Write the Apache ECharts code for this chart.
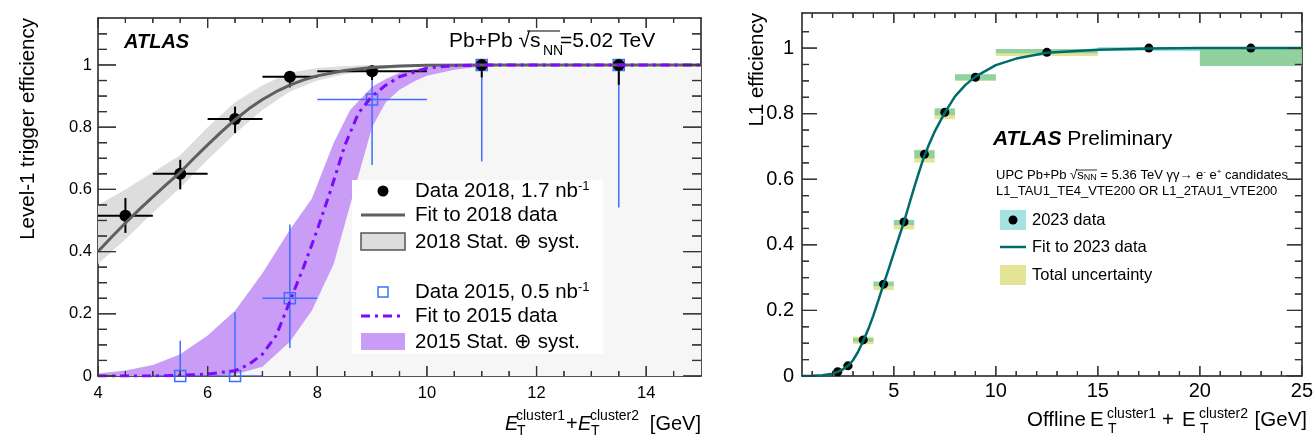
<!DOCTYPE html>
<html>
<head>
<meta charset="utf-8">
<script src="https://cdn.jsdelivr.net/npm/echarts@6/dist/echarts.min.js"></script>
<style>
  html, body { margin: 0; padding: 0; background: #fff; }
  #chart { width: 1316px; height: 443px; }
</style>
</head>
<body>
<div id="chart"></div>
<script>
const FONT = '"Liberation Sans", Arial, Helvetica, sans-serif'

// ---- left panel: 2018 data ----
const x18 = [4.5, 5.5, 6.5, 7.5, 9, 11, 13.5]
const x18Lo = [4, 5, 6, 7, 8, 10, 12]
const x18Hi = [5, 6, 7, 8, 10, 12, 15]
const y18 = [0.515, 0.65, 0.826, 0.962, 0.98, 1.0, 1.0]
const y18Up = [0.057, 0.045, 0.04, 0.016, 0.018, 0, 0]
const y18Dn = [0.055, 0.05, 0.045, 0.034, 0.028, 0.04, 0.064]

// ---- left panel: 2015 data ----
const x15 = [5.5, 6.5, 7.5, 9, 11, 13.5]
const x15Lo = [5, 6, 7, 8, 10, 12]
const x15Hi = [6, 7, 8, 10, 12, 15]
const y15 = [0, 0, 0.25, 0.889, 1.0, 1.0]
const y15Up = [0.113, 0.205, 0.237, 0.11, 0, 0]
const y15Dn = [0, 0, 0.16, 0.211, 0.31, 0.458]

// fits + bands
const fitX18 = [4, 4.25, 4.5, 4.75, 5, 5.25, 5.5, 5.75, 6, 6.25, 6.5, 6.75, 7, 7.25, 7.5, 7.75, 8, 8.5, 9, 9.5, 10, 11, 12, 15]
const fitY18 = [0.40, 0.447, 0.492, 0.535, 0.576, 0.616, 0.655, 0.7, 0.743, 0.785, 0.824, 0.859, 0.889, 0.914, 0.935, 0.952, 0.965, 0.982, 0.992, 0.997, 0.999, 1, 1, 1]
const band18X = [4, 4.5, 5, 5.5, 6, 6.5, 7, 7.5, 8, 8.5, 9, 10, 11]
const band18Lo = [0.36, 0.44, 0.525, 0.605, 0.695, 0.78, 0.855, 0.915, 0.95, 0.97, 0.985, 0.996, 1]
const band18Hi = [0.55, 0.60, 0.655, 0.71, 0.80, 0.88, 0.935, 0.975, 0.99, 0.997, 1, 1, 1]

const fitX15 = [4, 5, 5.5, 6, 6.5, 6.75, 7, 7.25, 7.5, 7.75, 8, 8.25, 8.5, 8.75, 9, 9.25, 9.5, 10, 10.5, 11, 15]
const fitY15 = [0, 0, 0.002, 0.006, 0.017, 0.037, 0.07, 0.13, 0.24, 0.35, 0.47, 0.6, 0.74, 0.845, 0.9, 0.935, 0.962, 0.99, 0.998, 1, 1]
const band15X = [4, 4.5, 5, 5.5, 6, 6.5, 7, 7.5, 7.9, 8.3, 8.6, 9, 9.25, 9.5, 9.8, 10, 10.5, 11, 12, 15]
const band15Hi = [0.008, 0.018, 0.035, 0.07, 0.13, 0.21, 0.33, 0.47, 0.57, 0.75, 0.855, 0.93, 0.955, 0.975, 0.988, 0.993, 0.998, 1, 1, 1]
const band15Lo = [0, 0, 0, 0, 0, 0.005, 0.03, 0.11, 0.21, 0.36, 0.55, 0.80, 0.88, 0.92, 0.95, 0.965, 0.985, 0.995, 1, 1]

// ---- right panel: 2023 data ----
const binLo = [2, 2.5, 3, 4, 5, 6, 7, 8, 10, 15, 20]
const binHi = [2.5, 3, 4, 5, 6, 7, 8, 10, 15, 20, 25]
const x23 = [2.25, 2.75, 3.5, 4.5, 5.5, 6.5, 7.5, 9, 12.5, 17.5, 22.5]
const eff23 = [0.013, 0.031, 0.11, 0.28, 0.47, 0.676, 0.804, 0.911, 0.987, 1.0, 1.0]
const statUp = [0.004, 0.005, 0.006, 0.008, 0.006, 0.012, 0.012, 0.009, 0.01, 0.003, 0]
const statDn = [0.004, 0.005, 0.006, 0.006, 0.01, 0.012, 0.009, 0.009, 0.003, 0.009, 0.055]
const totUp = [0.005, 0.006, 0.01, 0.008, 0.006, 0.014, 0.012, 0.009, 0.01, 0, 0]
const totDn = [0.007, 0.008, 0.013, 0.018, 0.023, 0.025, 0.021, 0.011, 0.011, 0, 0.055]
const fitX23 = [0.5, 1, 1.5, 2, 2.25, 2.5, 2.75, 3, 3.25, 3.5, 3.75, 4, 4.25, 4.5, 4.75, 5, 5.25, 5.5, 5.75, 6, 6.25, 6.5, 6.75, 7, 7.5, 8, 8.5, 9, 10, 11, 12.5, 15, 17.5, 20, 25]
const fitY23 = [0, 0.0005, 0.002, 0.007, 0.013, 0.02, 0.031, 0.048, 0.074, 0.107, 0.143, 0.185, 0.232, 0.28, 0.327, 0.375, 0.423, 0.47, 0.523, 0.575, 0.625, 0.672, 0.71, 0.745, 0.803, 0.853, 0.887, 0.913, 0.948, 0.968, 0.986, 0.995, 0.999, 1, 1]

// tick positions
const leftXMajor = [4, 6, 8, 10, 12, 14]
const leftXMinor = [4.5, 5, 5.5, 6.5, 7, 7.5, 8.5, 9, 9.5, 10.5, 11, 11.5, 12.5, 13, 13.5, 14.5]
const yMajor = [0, 0.2, 0.4, 0.6, 0.8, 1]
const leftYMinor = [0.05, 0.1, 0.15, 0.25, 0.3, 0.35, 0.45, 0.5, 0.55, 0.65, 0.7, 0.75, 0.85, 0.9, 0.95, 1.05, 1.1]
const rightXMajor = [5, 10, 15, 20, 25]
const rightXMinor = [1, 2, 3, 4, 6, 7, 8, 9, 11, 12, 13, 14, 16, 17, 18, 19, 21, 22, 23, 24]
const rightYMinor = [0.05, 0.1, 0.15, 0.25, 0.3, 0.35, 0.45, 0.5, 0.55, 0.65, 0.7, 0.75, 0.85, 0.9, 0.95, 1.05]

const chart = echarts.init(document.getElementById('chart'))

function txt(x, y, text, size, extra) {
  return {
    type: 'text', z: 100, x: x, y: y,
    style: Object.assign({ text: text, fontSize: size, fontFamily: FONT, fill: '#000', verticalAlign: 'middle' }, extra || {})
  }
}

function richTxt(x, y, text, size) {
  return {
    type: 'text', z: 100, x: x, y: y,
    style: {
      text: text, fontSize: size, fontFamily: FONT, fill: '#000', verticalAlign: 'middle',
      rich: {
        sup: { fontSize: Math.round(size * 0.62), fontFamily: FONT, padding: [0, 0, Math.round(size * 0.5), 0] },
        sub: { fontSize: Math.round(size * 0.7), fontFamily: FONT, padding: [Math.round(size * 0.45), 0, 0, 0] },
        b: { fontSize: size, fontFamily: FONT, fontWeight: 'bold', fontStyle: 'italic' }
      }
    }
  }
}

// frame axis: line + optional labels
function mkAxis(grid, pos, min, max, labels, fontSize, margin) {
  return {
    type: 'value', gridIndex: grid, position: pos, min: min, max: max,
    axisLine: { show: true, onZero: false, lineStyle: { color: '#1a1a1a', width: 1.5 } },
    axisTick: { show: false },
    axisLabel: labels ? {
      show: true, customValues: labels, fontSize: fontSize, margin: margin, color: '#000',
      fontFamily: FONT, showMinLabel: true, showMaxLabel: true
    } : { show: false },
    splitLine: { show: false }
  }
}

function band(xs, lo, hi, color) {
  return {
    type: 'custom', xAxisIndex: 0, yAxisIndex: 0, clip: true, silent: true,
    data: [[xs[0], lo[0]]],
    renderItem: function (params, api) {
      const pts = []
      for (let i = 0; i < xs.length; i++) pts.push(api.coord([xs[i], hi[i]]))
      for (let i = xs.length - 1; i >= 0; i--) pts.push(api.coord([xs[i], lo[i]]))
      return { type: 'polygon', shape: { points: pts }, style: { fill: color } }
    }
  }
}

function errBars(data, color, width) {
  return {
    type: 'custom', xAxisIndex: 0, yAxisIndex: 0, clip: true, silent: true,
    data: data,
    renderItem: function (params, api) {
      const y = api.value(1), x = api.value(0)
      const a = api.coord([api.value(2), y]), b = api.coord([api.value(3), y])
      const c = api.coord([x, api.value(4)]), d = api.coord([x, api.value(5)])
      const st = { stroke: color, lineWidth: width }
      return {
        type: 'group', children: [
          { type: 'line', shape: { x1: a[0], y1: a[1], x2: b[0], y2: b[1] }, style: st },
          { type: 'line', shape: { x1: c[0], y1: c[1], x2: d[0], y2: d[1] }, style: st }
        ]
      }
    }
  }
}

function boxes(data, color) {
  return {
    type: 'custom', xAxisIndex: 2, yAxisIndex: 2, clip: true, silent: true,
    data: data,
    renderItem: function (params, api) {
      const p1 = api.coord([api.value(0), api.value(3)])
      const p2 = api.coord([api.value(1), api.value(2)])
      return { type: 'rect', shape: { x: p1[0], y: p1[1], width: p2[0] - p1[0], height: p2[1] - p1[1] }, style: { fill: color } }
    }
  }
}

// inside ticks, one item per tick value: [value, y0, y1 (or x0, x1), pixel length]
// drawn as two short segments (bottom+top or left+right) in the same way as the error bars
function xTicks(xi, yi, vals, y0, y1, len) {
  return {
    type: 'custom', xAxisIndex: xi, yAxisIndex: yi, clip: true, silent: true,
    data: vals.map(v => [v, y0, y1, len]),
    renderItem: function (params, api) {
      const a = api.coord([api.value(0), api.value(1)])
      const b = api.coord([api.value(0), api.value(2)])
      const l = api.value(3)
      return {
        type: 'group', children: [
          { type: 'line', shape: { x1: a[0], y1: a[1], x2: a[0], y2: a[1] - l }, style: { stroke: '#333', lineWidth: 1.2 } },
          { type: 'line', shape: { x1: b[0], y1: b[1], x2: b[0], y2: b[1] + l }, style: { stroke: '#333', lineWidth: 1.2 } }
        ]
      }
    }
  }
}

function yTicks(xi, yi, vals, x0, x1, len) {
  return {
    type: 'custom', xAxisIndex: xi, yAxisIndex: yi, clip: true, silent: true,
    data: vals.map(v => [x0, v, x1, len]),
    renderItem: function (params, api) {
      const a = api.coord([api.value(0), api.value(1)])
      const b = api.coord([api.value(2), api.value(1)])
      const l = api.value(3)
      return {
        type: 'group', children: [
          { type: 'line', shape: { x1: a[0], y1: a[1], x2: a[0] + l, y2: a[1] }, style: { stroke: '#333', lineWidth: 1.2 } },
          { type: 'line', shape: { x1: b[0], y1: b[1], x2: b[0] - l, y2: b[1] }, style: { stroke: '#333', lineWidth: 1.2 } }
        ]
      }
    }
  }
}

// light grey area below the 2015 band's lower edge
const greyBottom = band15X.map(() => 0)

const option = {
  animation: false,
  backgroundColor: '#fff',
  grid: [
    { left: 98, top: 18, width: 603, height: 358 },
    { left: 802, top: 13, width: 505, height: 363 }
  ],
  xAxis: [
    mkAxis(0, 'bottom', 4, 15, leftXMajor, 16.5, 9),
    mkAxis(0, 'top', 4, 15),
    mkAxis(1, 'bottom', 0.5, 25, rightXMajor, 20, 5),
    mkAxis(1, 'top', 0.5, 25)
  ],
  yAxis: [
    mkAxis(0, 'left', 0, 1.151, yMajor, 16.5, 6),
    mkAxis(0, 'right', 0, 1.151),
    mkAxis(1, 'left', 0, 1.107, yMajor, 20, 8),
    mkAxis(1, 'right', 0, 1.107)
  ],
  series: [
    band(band15X, greyBottom, band15Lo, '#f6f6f6'),
    band(band18X, band18Lo, band18Hi, '#dddddd'),
    band(band15X, band15Lo, band15Hi, '#c99cf6'),
    {
      name: 'Fit to 2018 data', type: 'line', xAxisIndex: 0, yAxisIndex: 0, showSymbol: false,
      smooth: false, silent: true,
      data: fitX18.map((x, i) => [x, fitY18[i]]),
      lineStyle: { color: '#5f5f5f', width: 3 }
    },
    {
      name: 'Fit to 2015 data', type: 'line', xAxisIndex: 0, yAxisIndex: 0, showSymbol: false,
      smooth: false, silent: true,
      data: fitX15.map((x, i) => [x, fitY15[i]]),
      lineStyle: { color: '#7d0aff', width: 3, type: [9, 5, 3, 5] }
    },
    errBars(x15.map((x, i) => [x, y15[i], x15Lo[i], x15Hi[i], y15[i] - y15Dn[i], y15[i] + y15Up[i]]), '#3f6dff', 1.5),
    {
      name: 'Data 2015', type: 'scatter', xAxisIndex: 0, yAxisIndex: 0, symbol: 'rect', symbolSize: 11,
      data: x15.map((x, i) => [x, y15[i]]),
      itemStyle: { color: 'rgba(255,255,255,0)', borderColor: '#3f6dff', borderWidth: 1.5, opacity: 1 }
    },
    errBars(x18.map((x, i) => [x, y18[i], x18Lo[i], x18Hi[i], y18[i] - y18Dn[i], y18[i] + y18Up[i]]), '#000', 2),
    {
      name: 'Data 2018', type: 'scatter', xAxisIndex: 0, yAxisIndex: 0, symbol: 'circle', symbolSize: 12,
      data: x18.map((x, i) => [x, y18[i]]),
      itemStyle: { color: '#000', opacity: 1 }
    },
    xTicks(0, 0, leftXMajor, 0, 1.151, 10),
    xTicks(0, 0, leftXMinor, 0, 1.151, 5),
    yTicks(0, 0, yMajor, 4, 15, 18),
    yTicks(0, 0, leftYMinor, 4, 15, 9),
    // right panel
    boxes(binLo.map((l, i) => [l, binHi[i], eff23[i] - totDn[i], eff23[i] + totUp[i]]), '#e4e496'),
    boxes(binLo.map((l, i) => [l, binHi[i], eff23[i] - statDn[i], eff23[i] + statUp[i]]), 'rgba(0,175,175,0.37)'),
    {
      name: 'Fit to 2023 data', type: 'line', xAxisIndex: 2, yAxisIndex: 2, showSymbol: false,
      smooth: false, silent: true,
      data: fitX23.map((x, i) => [x, fitY23[i]]),
      lineStyle: { color: '#006b6b', width: 2.5 }
    },
    {
      name: '2023 data', type: 'scatter', xAxisIndex: 2, yAxisIndex: 2, symbol: 'circle', symbolSize: 9,
      data: x23.map((x, i) => [x, eff23[i]]),
      itemStyle: { color: '#000', opacity: 1 }
    },
    xTicks(2, 2, rightXMajor, 0, 1.107, 10),
    xTicks(2, 2, rightXMinor, 0, 1.107, 5),
    yTicks(2, 2, yMajor, 0.5, 25, 15),
    yTicks(2, 2, rightYMinor, 0.5, 25, 7)
  ],
  graphic: [
    // left panel labels
    txt(124, 42, 'ATLAS', 20, { fontWeight: 'bold', fontStyle: 'italic' }),
    txt(449, 41, 'Pb+Pb \u221As', 21),
    txt(543, 51, 'NN', 14),
    txt(560, 41, '=5.02 TeV', 21),
    { type: 'line', z: 100, shape: { x1: 527, y1: 31, x2: 560, y2: 31 }, style: { stroke: '#000', lineWidth: 1.2 } },
    // left legend
    { type: 'rect', z: 99, shape: { x: 352, y: 180, width: 251, height: 174 }, style: { fill: '#fff' } },
    { type: 'circle', z: 100, shape: { cx: 383, cy: 191, r: 5.5 }, style: { fill: '#000' } },
    { type: 'line', z: 100, shape: { x1: 361, y1: 215, x2: 405, y2: 215 }, style: { stroke: '#5f5f5f', lineWidth: 3 } },
    { type: 'rect', z: 100, shape: { x: 361, y: 233, width: 44, height: 17 }, style: { fill: '#dddddd', stroke: '#555', lineWidth: 1.5 } },
    { type: 'rect', z: 100, shape: { x: 378, y: 287, width: 10, height: 10 }, style: { fill: 'none', stroke: '#3f6dff', lineWidth: 1.5 } },
    { type: 'line', z: 100, shape: { x1: 361, y1: 316, x2: 405, y2: 316 }, style: { stroke: '#7d0aff', lineWidth: 3, lineDash: [9, 5, 3, 5] } },
    { type: 'rect', z: 100, shape: { x: 361, y: 333, width: 44, height: 17 }, style: { fill: '#c99cf6' } },
    richTxt(415, 191, 'Data 2018, 1.7 nb{sup|-1}', 20.5),
    txt(415, 215, 'Fit to 2018 data', 20.5),
    txt(415, 242, '2018 Stat. \u2295 syst.', 20.5),
    richTxt(415, 292, 'Data 2015, 0.5 nb{sup|-1}', 20.5),
    txt(415, 316, 'Fit to 2015 data', 20.5),
    txt(415, 342, '2015 Stat. \u2295 syst.', 20.5),
    // left axis titles
    { type: 'text', z: 100, x: 28, y: 18, rotation: Math.PI / 2, style: { text: 'Level-1 trigger efficiency', fontSize: 20.5, fontFamily: FONT, fill: '#000', align: 'right', verticalAlign: 'middle' } },
    txt(505, 424, 'E', 20, { fontStyle: 'italic' }),
    txt(516, 416, 'cluster1', 14),
    txt(517, 431, 'T', 14),
    txt(566, 424, '+', 20),
    txt(578, 424, 'E', 20, { fontStyle: 'italic' }),
    txt(590, 416, 'cluster2', 14),
    txt(591, 431, 'T', 14),
    txt(701, 424, '[GeV]', 20, { align: 'right' }),
    // right panel labels
    richTxt(993, 139, '{b|ATLAS} Preliminary', 21),
    richTxt(996, 175, 'UPC Pb+Pb \u221As{sub|NN} = 5.36 TeV \u03B3\u03B3\u2192 e{sup|-} e{sup|+} candidates', 13),
    { type: 'line', z: 100, shape: { x1: 1076, y1: 170, x2: 1097, y2: 170 }, style: { stroke: '#000', lineWidth: 0.8 } },
    txt(996, 191, 'L1_TAU1_TE4_VTE200 OR L1_2TAU1_VTE200', 13),
    { type: 'rect', z: 100, shape: { x: 1000, y: 210, width: 26, height: 20 }, style: { fill: '#a6e2e2' } },
    { type: 'circle', z: 100, shape: { cx: 1013, cy: 220, r: 4.5 }, style: { fill: '#000' } },
    { type: 'line', z: 100, shape: { x1: 1000, y1: 247, x2: 1026, y2: 247 }, style: { stroke: '#006b6b', lineWidth: 2.5 } },
    { type: 'rect', z: 100, shape: { x: 1000, y: 265, width: 26, height: 20 }, style: { fill: '#e4e496' } },
    txt(1032, 220, '2023 data', 16.5),
    txt(1032, 247, 'Fit to 2023 data', 16.5),
    txt(1032, 275, 'Total uncertainty', 16.5),
    // right axis titles
    { type: 'text', z: 100, x: 757, y: 13, rotation: Math.PI / 2, style: { text: 'L1 efficiency', fontSize: 20.5, fontFamily: FONT, fill: '#000', align: 'right', verticalAlign: 'middle' } },
    txt(1027, 420, 'Offline', 20.5),
    txt(1090, 420, 'E', 20.5),
    txt(1107, 414, 'cluster1', 14),
    txt(1108, 429, 'T', 14),
    txt(1162, 420, '+', 20.5),
    txt(1182, 420, 'E', 20.5),
    txt(1199, 414, 'cluster2', 14),
    txt(1200, 429, 'T', 14),
    txt(1307, 420, '[GeV]', 20.5, { align: 'right' })
  ]
}

chart.setOption(option)

// second pass: the same ticks as graphic lines, placed through each axis' own scale
try {
  const tickEls = []
  function seg(x1, y1, x2, y2) {
    tickEls.push({ type: 'line', z: 100, silent: true, shape: { x1: x1, y1: y1, x2: x2, y2: y2 }, style: { stroke: '#333', lineWidth: 1.2 } })
  }
  function panelTicks(xi, yi, x0, x1, y0, y1, xMaj, xMin, yMaj, yMin, xLen, yLen) {
    const px = v => chart.convertToPixel({ xAxisIndex: xi }, v)
    const py = v => chart.convertToPixel({ yAxisIndex: yi }, v)
    const bottom = py(y0), top = py(y1), left = px(x0), right = px(x1)
    xMaj.forEach(v => { const p = px(v); seg(p, bottom, p, bottom - xLen[0]); seg(p, top, p, top + xLen[0]) })
    xMin.forEach(v => { const p = px(v); seg(p, bottom, p, bottom - xLen[1]); seg(p, top, p, top + xLen[1]) })
    yMaj.forEach(v => { const p = py(v); seg(left, p, left + yLen[0], p); seg(right, p, right - yLen[0], p) })
    yMin.forEach(v => { const p = py(v); seg(left, p, left + yLen[1], p); seg(right, p, right - yLen[1], p) })
  }
  panelTicks(0, 0, 4, 15, 0, 1.151, leftXMajor, leftXMinor, yMajor, leftYMinor, [10, 5], [18, 9])
  panelTicks(2, 2, 0.5, 25, 0, 1.107, rightXMajor, rightXMinor, yMajor, rightYMinor, [10, 5], [15, 7])
  chart.setOption({ graphic: option.graphic.concat(tickEls) })
} catch (e) {
  chart.setOption({ graphic: option.graphic.concat([txt(4, 8, 'tick error: ' + e.message, 10, { fill: '#c00' })]) })
}
</script>
</body>
</html>
